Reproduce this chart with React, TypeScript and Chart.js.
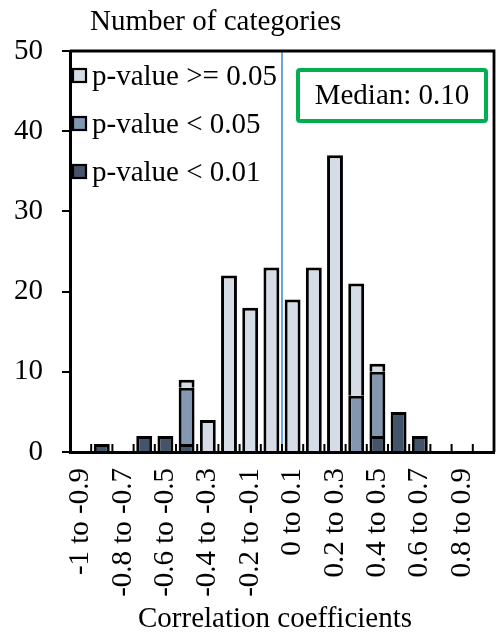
import React, { useEffect, useRef } from 'react';
import { Chart, registerables } from 'chart.js';

Chart.register(...registerables);

const categories = [
  '-1 to -0.9', '-0.9 to -0.8', '-0.8 to -0.7', '-0.7 to -0.6', '-0.6 to -0.5',
  '-0.5 to -0.4', '-0.4 to -0.3', '-0.3 to -0.2', '-0.2 to -0.1', '-0.1 to 0',
  '0 to 0.1', '0.1 to 0.2', '0.2 to 0.3', '0.3 to 0.4', '0.4 to 0.5',
  '0.5 to 0.6', '0.6 to 0.7', '0.7 to 0.8', '0.8 to 0.9', '0.9 to 1',
];
const seriesLabels = ['p-value < 0.01', 'p-value < 0.05', 'p-value >= 0.05'];
const pBelow001 = [0, 1, 0, 2, 2, 1, 0, 0, 0, 0, 0, 0, 0, 0, 2, 5, 2, 0, 0, 0];
const pBelow005 = [0, 0, 0, 0, 0, 7, 0, 0, 0, 0, 0, 0, 0, 7, 8, 0, 0, 0, 0, 0];
const pAbove005 = [0, 0, 0, 0, 0, 1, 4, 22, 18, 23, 19, 23, 37, 14, 1, 0, 0, 0, 0, 0];
const seriesColors = ['#44546A', '#8497B0', '#D6DCE5'];
const yMin = 0;
const yMax = 50;
const yStep = 10;
const yTitle = 'Number of categories';
const xTitle = 'Correlation coefficients';
const medianLabel = 'Median: 0.10';
const medianPosition = 9.5; // category-scale position of the median line

const FONT = "'Liberation Serif', 'Times New Roman', serif";
const FS = 29;

const decorPlugin = {
  id: 'decor',
  beforeDatasetsDraw(chart: any) {
    const { ctx, chartArea: ca, scales } = chart;
    const x = scales.x;
    ctx.save();
    const mx = x.getPixelForValue(medianPosition);
    ctx.strokeStyle = '#5B9BD5';
    ctx.lineWidth = 1.8;
    ctx.beginPath();
    ctx.moveTo(mx, ca.top);
    ctx.lineTo(mx, ca.bottom);
    ctx.stroke();
    ctx.restore();
  },
  afterDraw(chart: any) {
    const { ctx, chartArea: ca, scales } = chart;
    const x = scales.x;
    ctx.save();
    // inner tick marks at category boundaries
    ctx.strokeStyle = '#000';
    ctx.lineWidth = 2;
    for (let i = 1; i < categories.length; i++) {
      const px = x.getPixelForValue(i - 0.5);
      ctx.beginPath();
      ctx.moveTo(px, ca.bottom);
      ctx.lineTo(px, ca.bottom - 8);
      ctx.stroke();
    }
    // top and right frame
    ctx.lineWidth = 2.8;
    ctx.beginPath();
    ctx.moveTo(ca.left, ca.top);
    ctx.lineTo(ca.right, ca.top);
    ctx.lineTo(ca.right, ca.bottom);
    ctx.stroke();

    ctx.fillStyle = '#000';
    ctx.font = `${FS}px ${FONT}`;
    // axis titles
    ctx.textAlign = 'left';
    ctx.textBaseline = 'alphabetic';
    ctx.fillText(yTitle, 90, 30);
    ctx.textAlign = 'center';
    ctx.fillText(xTitle, 275, 627);

    // legend (top to bottom: >=0.05, <0.05, <0.01)
    const order = [2, 1, 0];
    order.forEach((di, row) => {
      const ds = chart.data.datasets[di];
      const cy = ca.top + 25 + row * 48;
      ctx.fillStyle = ds.backgroundColor;
      ctx.fillRect(73, cy - 7, 13, 13);
      ctx.strokeStyle = '#000';
      ctx.lineWidth = 2.2;
      ctx.strokeRect(73, cy - 7, 13, 13);
      ctx.fillStyle = '#000';
      ctx.textAlign = 'left';
      ctx.textBaseline = 'middle';
      ctx.fillText(ds.label, 92, cy + 1);
    });

    // median box
    const bx = 298, by = 70, bw = 188, bh = 51;
    ctx.strokeStyle = '#00B050';
    ctx.lineWidth = 4;
    ctx.beginPath();
    (ctx as any).roundRect ? (ctx as any).roundRect(bx, by, bw, bh, 2) : ctx.rect(bx, by, bw, bh);
    ctx.stroke();
    ctx.fillStyle = '#000';
    ctx.textAlign = 'center';
    ctx.textBaseline = 'middle';
    ctx.fillText(medianLabel, bx + bw / 2, by + bh / 2 + 1);
    ctx.restore();
  },
};

export default function App() {
  const ref = useRef<HTMLCanvasElement | null>(null);
  useEffect(() => {
    if (!ref.current) return;
    const datasets = [pBelow001, pBelow005, pAbove005].map((d, i) => ({
      label: seriesLabels[i],
      data: d,
      backgroundColor: seriesColors[i],
      borderColor: '#000',
      borderWidth: 3,
      borderSkipped: 'start' as const,
      barPercentage: 0.75,
      categoryPercentage: 1,
    }));
    const chart = new Chart(ref.current, {
      type: 'bar',
      data: { labels: categories, datasets },
      options: {
        responsive: false,
        animation: false,
        devicePixelRatio: 1,
        layout: { padding: { top: 51, right: 3, left: 0, bottom: 0 } },
        plugins: {
          legend: { display: false },
          tooltip: { enabled: false },
          title: { display: false },
        },
        scales: {
          x: {
            type: 'category',
            stacked: true,
            offset: true,
            grid: { display: false, drawTicks: false },
            border: { display: true, color: '#000', width: 3 },
            ticks: {
              autoSkip: false,
              minRotation: 90,
              maxRotation: 90,
              padding: 16,
              color: '#000',
              font: { family: FONT, size: FS },
              callback: (_v: any, idx: number) => (idx % 2 === 0 ? categories[idx] : ''),
            },
            afterFit: (scale: any) => {
              scale.height = 180;
              scale.paddingLeft = 0;
              scale.paddingRight = 0;
            },
          },
          y: {
            stacked: true,
            min: yMin,
            max: yMax,
            grid: {
              display: true,
              drawOnChartArea: false,
              drawTicks: true,
              tickLength: 8,
              color: '#000',
              lineWidth: 2,
            },
            border: { display: true, color: '#000', width: 3 },
            ticks: {
              stepSize: yStep,
              padding: 19,
              color: '#000',
              font: { family: FONT, size: FS },
            },
            afterFit: (scale: any) => {
              scale.width = 70;
              scale.paddingTop = 0;
              scale.paddingBottom = 0;
            },
          },
        },
      },
      plugins: [decorPlugin],
    });
    return () => chart.destroy();
  }, []);
  return (
    <div style={{ position: 'fixed', left: 0, top: 0, width: 497, height: 632, background: '#fff' }}>
      <canvas ref={ref} width={497} height={632} />
    </div>
  );
}
